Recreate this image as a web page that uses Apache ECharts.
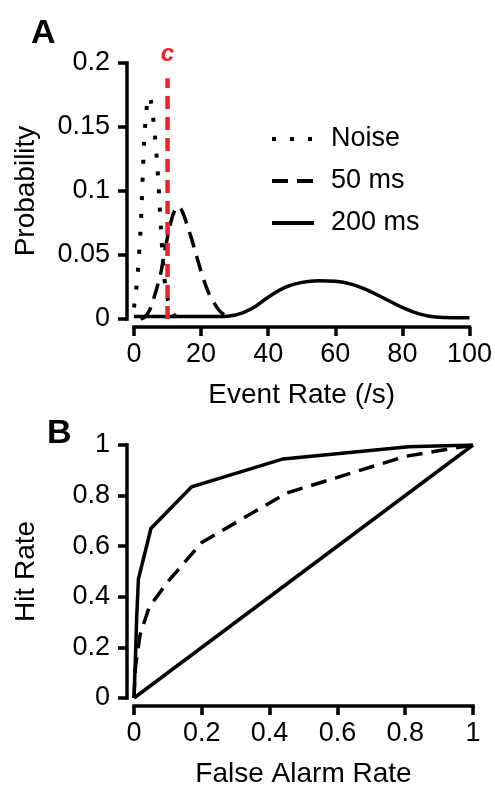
<!DOCTYPE html>
<html>
<head>
<meta charset="utf-8">
<script src="https://cdn.jsdelivr.net/npm/echarts@6/dist/echarts.min.js"></script>
<style>
html,body{margin:0;padding:0;background:#fff;}
#chart{width:495px;height:789px;}
</style>
</head>
<body>
<div id="chart"></div>
<script>
// ---- Panel A: event-rate distributions ----
const noiseX = [0, 1, 2, 3, 3.5, 4, 4.5, 5, 6, 7, 8, 9, 10, 11, 12, 13];
const noiseY = [0.009, 0.032, 0.072, 0.138, 0.157, 0.17, 0.174, 0.171, 0.15, 0.118, 0.072, 0.033, 0.016, 0.008, 0.003, 0.001];
const ms50X = [2, 3, 4, 5, 6, 7, 8, 9, 10, 11, 12, 13, 14, 15, 16, 17, 18, 19, 20, 21, 22, 23, 24, 25, 26, 27, 28];
const ms50Y = [0.0, 0.001, 0.004, 0.009, 0.017, 0.026, 0.036, 0.051, 0.064, 0.076, 0.084, 0.088, 0.086, 0.08, 0.072, 0.064, 0.055, 0.046, 0.037, 0.029, 0.022, 0.016, 0.012, 0.008, 0.005, 0.003, 0.002];
const ms200X = [0, 5, 10, 15, 20, 25, 30, 35, 40, 45, 50, 55, 60, 65, 70, 75, 80, 85, 90, 95, 100];
const ms200Y = [0.002, 0.002, 0.002, 0.002, 0.002, 0.002, 0.003, 0.008, 0.017, 0.0247, 0.0286, 0.0299, 0.0295, 0.027, 0.022, 0.0155, 0.009, 0.004, 0.0015, 0.001, 0.001];
const criterionX = 10;
const criterionTop = 0.188;
const criterionLabel = 'c';
const seriesNamesA = ['Noise', '50 ms', '200 ms'];
const xTicksA = ['0', '20', '40', '60', '80', '100'];
const yTicksA = ['0', '0.05', '0.1', '0.15', '0.2'];

// ---- Panel B: ROC curves ----
const roc50FA  = [0, 0.004, 0.018, 0.045, 0.1, 0.2, 0.45, 0.8, 1];
const roc50Hit = [0, 0.12, 0.25, 0.36, 0.46, 0.615, 0.81, 0.955, 1];
const roc200FA  = [0, 0.004, 0.008, 0.013, 0.05, 0.17, 0.44, 0.81, 1];
const roc200Hit = [0, 0.15, 0.32, 0.47, 0.67, 0.835, 0.945, 0.993, 1];
const chanceFA  = [0, 1];
const chanceHit = [0, 1];
const xTicksB = ['0', '0.2', '0.4', '0.6', '0.8', '1'];
const yTicksB = ['0', '0.2', '0.4', '0.6', '0.8', '1'];

const zip = (xs, ys) => xs.map((x, i) => [x, ys[i]]);
const FONT = 'Arial, "Liberation Sans", Helvetica, sans-serif';
const BLACK = '#000';
const RED = '#e8262a';
const LW = 3.5;
const TICK_FS = 27;
const NAME_FS = 28;

function axisCommon() {
  return {
    axisLine: { show: true, onZero: false, lineStyle: { color: BLACK, width: LW, cap: 'square' } },
    axisTick: { show: true, length: 9, lineStyle: { color: BLACK, width: LW } },
    splitLine: { show: false },
    nameTextStyle: { color: BLACK, fontSize: NAME_FS, fontFamily: FONT },
    nameLocation: 'middle'
  };
}

const chart = echarts.init(document.getElementById('chart'), null, { renderer: 'canvas' });
chart.setOption({
  animation: false,
  backgroundColor: '#fff',
  textStyle: { fontFamily: FONT },
  title: [
    { text: 'A', left: 31, top: 17, padding: 0, textStyle: { fontSize: 34, fontWeight: 'bold', color: BLACK, fontFamily: FONT } },
    { text: 'B', left: 47, top: 417, padding: 0, textStyle: { fontSize: 34, fontWeight: 'bold', color: BLACK, fontFamily: FONT } }
  ],
  legend: {
    data: seriesNamesA,
    orient: 'vertical',
    left: 270,
    top: 124,
    padding: 0,
    itemWidth: 42,
    itemHeight: 14,
    itemGap: 12,
    itemStyle: { opacity: 0 },
    lineStyle: { width: 4 },
    textStyle: { fontSize: TICK_FS, lineHeight: 30, color: BLACK, fontFamily: FONT, padding: [0, 0, 0, 12] }
  },
  grid: [
    { left: 134, right: 22, top: 63, bottom: 470 },
    { left: 134, right: 22, top: 445, bottom: 87 }
  ],
  xAxis: [
    Object.assign(axisCommon(), {
      gridIndex: 0, type: 'value', min: 0, max: 100, interval: 20, offset: 8,
      name: 'Event Rate (/s)', nameGap: 54,
      axisLabel: { color: BLACK, fontSize: TICK_FS, margin: 14, fontFamily: FONT, formatter: (v) => xTicksA[Math.round(v / 20)] }
    }),
    Object.assign(axisCommon(), {
      gridIndex: 1, type: 'value', min: 0, max: 1, interval: 0.2, offset: 8,
      name: 'False Alarm Rate', nameGap: 54,
      axisLabel: { color: BLACK, fontSize: TICK_FS, margin: 14, fontFamily: FONT, formatter: (v) => xTicksB[Math.round(v / 0.2)] }
    })
  ],
  yAxis: [
    Object.assign(axisCommon(), {
      gridIndex: 0, type: 'value', min: 0, max: 0.2, interval: 0.05, offset: 7,
      name: 'Probability', nameGap: 87,
      axisLabel: { color: BLACK, fontSize: TICK_FS, margin: 17, fontFamily: FONT, formatter: (v) => yTicksA[Math.round(v / 0.05)] }
    }),
    Object.assign(axisCommon(), {
      gridIndex: 1, type: 'value', min: 0, max: 1, interval: 0.2, offset: 7,
      name: 'Hit Rate', nameGap: 87,
      axisLabel: { color: BLACK, fontSize: TICK_FS, margin: 17, fontFamily: FONT, formatter: (v) => yTicksB[Math.round(v / 0.2)] }
    })
  ],
  series: [
    {
      name: seriesNamesA[2], type: 'line', xAxisIndex: 0, yAxisIndex: 0,
      data: zip(ms200X, ms200Y), smooth: 0.4, symbol: 'none', z: 3,
      lineStyle: { color: BLACK, width: LW, type: 'solid' }, itemStyle: { color: BLACK }
    },
    {
      name: seriesNamesA[1], type: 'line', xAxisIndex: 0, yAxisIndex: 0,
      data: zip(ms50X, ms50Y), smooth: 0.3, symbol: 'none', z: 3,
      lineStyle: { color: BLACK, width: LW, type: [16, 9], cap: 'butt' }, itemStyle: { color: BLACK }
    },
    {
      name: seriesNamesA[0], type: 'line', xAxisIndex: 0, yAxisIndex: 0,
      data: zip(noiseX, noiseY), smooth: 0.25, symbol: 'none', z: 3,
      lineStyle: { color: BLACK, width: 4, type: [4, 14], cap: 'butt' }, itemStyle: { color: BLACK }
    },
    {
      name: 'criterion', type: 'line', xAxisIndex: 0, yAxisIndex: 0,
      data: [
        [criterionX, 0],
        { value: [criterionX, criterionTop],
          label: { show: true, position: 'top', distance: 12, formatter: criterionLabel,
                   color: RED, fontSize: 24, fontStyle: 'italic', fontWeight: 'bold', fontFamily: FONT } }
      ],
      symbol: 'circle', symbolSize: 0.1, showSymbol: true, z: 4,
      lineStyle: { color: RED, width: 4.5, type: [13, 8], cap: 'butt' }, itemStyle: { color: RED }
    },
    {
      name: 'chance', type: 'line', xAxisIndex: 1, yAxisIndex: 1,
      data: zip(chanceFA, chanceHit), symbol: 'none',
      lineStyle: { color: BLACK, width: LW, type: 'solid' }
    },
    {
      name: 'roc200', type: 'line', xAxisIndex: 1, yAxisIndex: 1,
      data: zip(roc200FA, roc200Hit), symbol: 'none',
      lineStyle: { color: BLACK, width: LW, type: 'solid', join: 'miter' }
    },
    {
      name: 'roc50', type: 'line', xAxisIndex: 1, yAxisIndex: 1,
      data: zip(roc50FA, roc50Hit), symbol: 'none',
      lineStyle: { color: BLACK, width: LW, type: [16, 9], cap: 'butt' }
    }
  ]
});
</script>
</body>
</html>
